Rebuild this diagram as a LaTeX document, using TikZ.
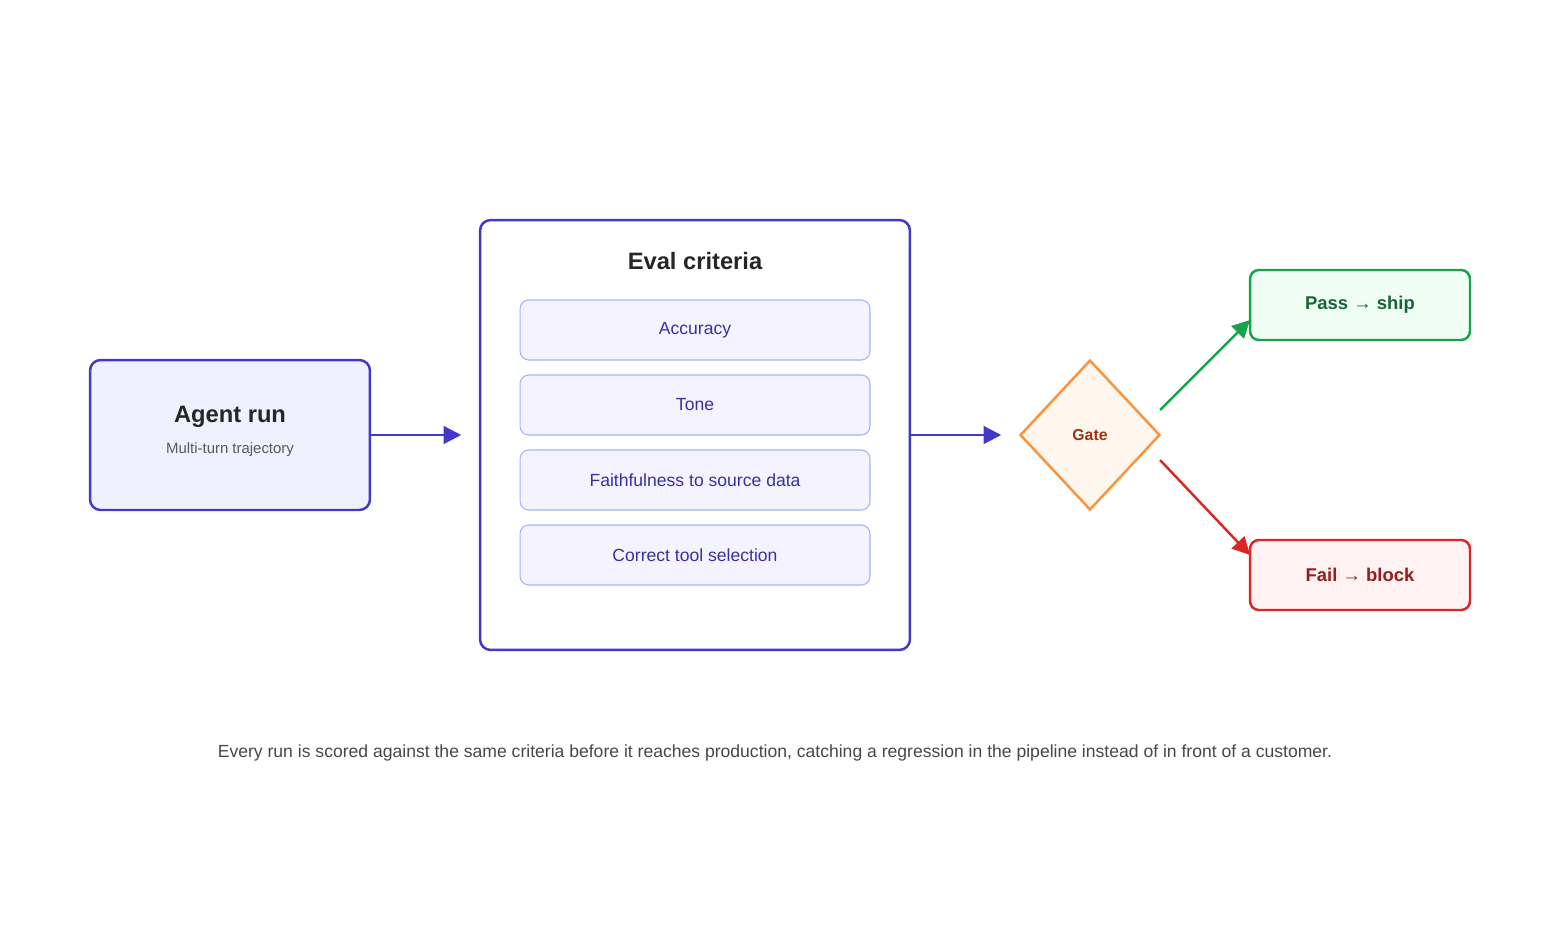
\documentclass[tikz,border=0pt]{standalone}
\usepackage{fontspec}
\setmainfont{Liberation Sans}
\usetikzlibrary{shapes.geometric,arrows.meta}
\definecolor{indigo}{HTML}{4338CA}
\definecolor{indtext}{HTML}{3730A3}
\definecolor{agentfill}{HTML}{EEF2FF}
\definecolor{critfill}{HTML}{F5F3FF}
\definecolor{critline}{HTML}{A5B4FC}
\definecolor{gatefill}{HTML}{FFF7ED}
\definecolor{gateline}{HTML}{FB923C}
\definecolor{gatetext}{HTML}{9A3412}
\definecolor{passfill}{HTML}{F0FDF4}
\definecolor{passline}{HTML}{16A34A}
\definecolor{passtext}{HTML}{166534}
\definecolor{failfill}{HTML}{FEF2F2}
\definecolor{failline}{HTML}{DC2626}
\definecolor{failtext}{HTML}{991B1B}
\tikzset{
  box/.style={rectangle,rounded corners=6pt,line width=1.4pt,inner sep=0pt},
  crit/.style={rectangle,rounded corners=5pt,draw=critline,fill=critfill,line width=0.6pt,
    minimum width=7cm,minimum height=1.2cm,text=indtext,font=\fontsize{10}{12}\selectfont},
  flow/.style={-{Triangle[length=10pt,width=10pt]},line width=1.4pt},
}
\begin{document}
\begin{tikzpicture}[x=0.02cm,y=-0.02cm]
  \useasboundingbox (0,0) rectangle (1550,950);
  % left input
  \node[box,draw=indigo,fill=agentfill,minimum width=5.6cm,minimum height=3cm] (agent) at (230,435) {};
  \node[font=\bfseries\fontsize{13.5}{16}\selectfont,text=black!85] (agentT) at (230,417) {Agent run};
  \node[font=\fontsize{8.5}{10}\selectfont,text=black!65] (agentS) at (230,450) {Multi-turn trajectory};
  % criteria panel
  \node[box,draw=indigo,fill=white,minimum width=8.6cm,minimum height=8.6cm] (eval) at (695,435) {};
  \node[font=\bfseries\fontsize{13.5}{16}\selectfont,text=black!85] (evalT) at (695,261) {Eval criteria};
  \node[crit] (c1) at (695,330) {Accuracy};
  \node[crit] (c2) at (695,405) {Tone};
  \node[crit] (c3) at (695,480) {Faithfulness to source data};
  \node[crit] (c4) at (695,555) {Correct tool selection};
  % gate and outcomes
  \node[diamond,draw=gateline,fill=gatefill,line width=1.4pt,minimum width=2.8cm,minimum height=3cm,
    inner sep=0pt,text=gatetext,font=\bfseries\fontsize{9}{11}\selectfont] (gate) at (1090,435) {Gate};
  \node[box,draw=passline,fill=passfill,rounded corners=5pt,minimum width=4.4cm,minimum height=1.4cm,
    text=passtext,font=\bfseries\fontsize{10.5}{12}\selectfont] (pass) at (1360,305) {Pass → ship};
  \node[box,draw=failline,fill=failfill,rounded corners=5pt,minimum width=4.4cm,minimum height=1.4cm,
    text=failtext,font=\bfseries\fontsize{10.5}{12}\selectfont] (fail) at (1360,575) {Fail → block};
  \coordinate (gp) at (1160,410);
  \coordinate (gf) at (1160,460);
  \coordinate (pe) at (1250,320);
  \coordinate (fe) at (1250,555);
  \draw[flow,indigo,shorten >=10pt] (agent.east) -- (eval.west);
  \draw[flow,indigo,shorten >=10pt] (eval.east) -- (gate.west);
  \draw[flow,passline] (gp) -- (pe);
  \draw[flow,failline] (gf) -- (fe);
  % caption
  \node[font=\fontsize{10}{12}\selectfont,text=black!72] (cap) at (775,753)
    {Every run is scored against the same criteria before it reaches production, catching a regression in the pipeline instead of in front of a customer.};
\end{tikzpicture}
\end{document}
